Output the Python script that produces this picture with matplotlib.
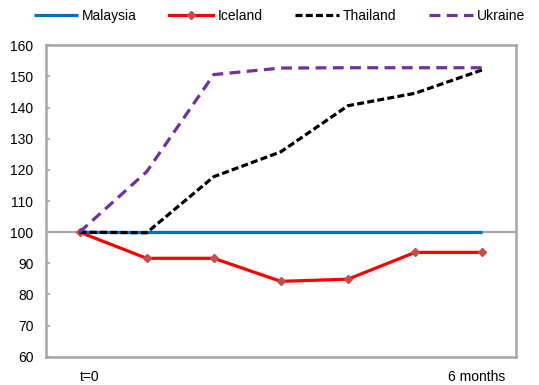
import matplotlib
matplotlib.use("Agg")
import matplotlib.pyplot as plt
import matplotlib.transforms as mtransforms

plt.rcParams['font.family'] = ['Liberation Sans', 'DejaVu Sans']

# Index level, t=0 is 100, monthly steps over six months
periods = [0, 1, 2, 3, 4, 5, 6]
malaysia = [100, 100, 100, 100, 100, 100, 100]
iceland = [100, 91.6, 91.6, 84.2, 84.9, 93.5, 93.5]
thailand = [100, 99.8, 117.8, 125.8, 140.6, 144.6, 152.1]
ukraine = [100, 119.4, 150.6, 152.7, 152.8, 152.8, 152.8]
x_labels = {0: "t=0", 6: "6 months"}
y_ticks = [60, 70, 80, 90, 100, 110, 120, 130, 140, 150, 160]

grey = "#A6A6A6"
fs = 10

fig = plt.figure(figsize=(5.39, 3.85), dpi=100)
ax = fig.add_axes([0.0853, 0.0735, 0.8715, 0.8088])

ax.axhline(100, color=grey, lw=1.6, zorder=1)

ax.plot(periods, malaysia, color="#0070C0", lw=2.3, label="Malaysia",
        solid_capstyle="butt", zorder=2)
ax.plot(periods, iceland, color="#FF0000", lw=2.3, label="Iceland",
        marker="D", markersize=4.5, markerfacecolor="#C0504D",
        markeredgecolor="#C0504D", zorder=3)
ax.plot(periods, thailand, color="black", lw=2.3, label="Thailand",
        dashes=(2.2, 1.0), zorder=4)
ax.plot(periods, ukraine, color="#7030A0", lw=2.3, label="Ukraine",
        dashes=(3.4, 2.0), zorder=5)

ax.set_xlim(-0.5, 6.5)
ax.set_ylim(60, 160)
ax.set_yticks(y_ticks)
ax.set_xticks([])

for side in ("left", "right", "top", "bottom"):
    ax.spines[side].set_color(grey)
    ax.spines[side].set_linewidth(1.8)

ax.tick_params(axis="y", direction="in", length=3, width=1.2, color=grey,
               labelsize=fs, pad=9, labelcolor="black")

# Category labels below the plot area
offsets = {0: 10 / 100, 6: -6 / 100}
for pos, text in x_labels.items():
    trans = mtransforms.blended_transform_factory(ax.transData, ax.transAxes)
    trans = trans + mtransforms.ScaledTranslation(offsets[pos], -20 / 100,
                                                  fig.dpi_scale_trans)
    ax.text(pos, 0, text, transform=trans, ha="center", va="center",
            fontsize=fs)

leg = fig.legend(loc="center", bbox_to_anchor=(0.5186, 0.958), ncol=4,
                 frameon=False, fontsize=fs, handlelength=3.2,
                 handletextpad=0.3, columnspacing=2.3)

fig.savefig("out.png", dpi=100)
